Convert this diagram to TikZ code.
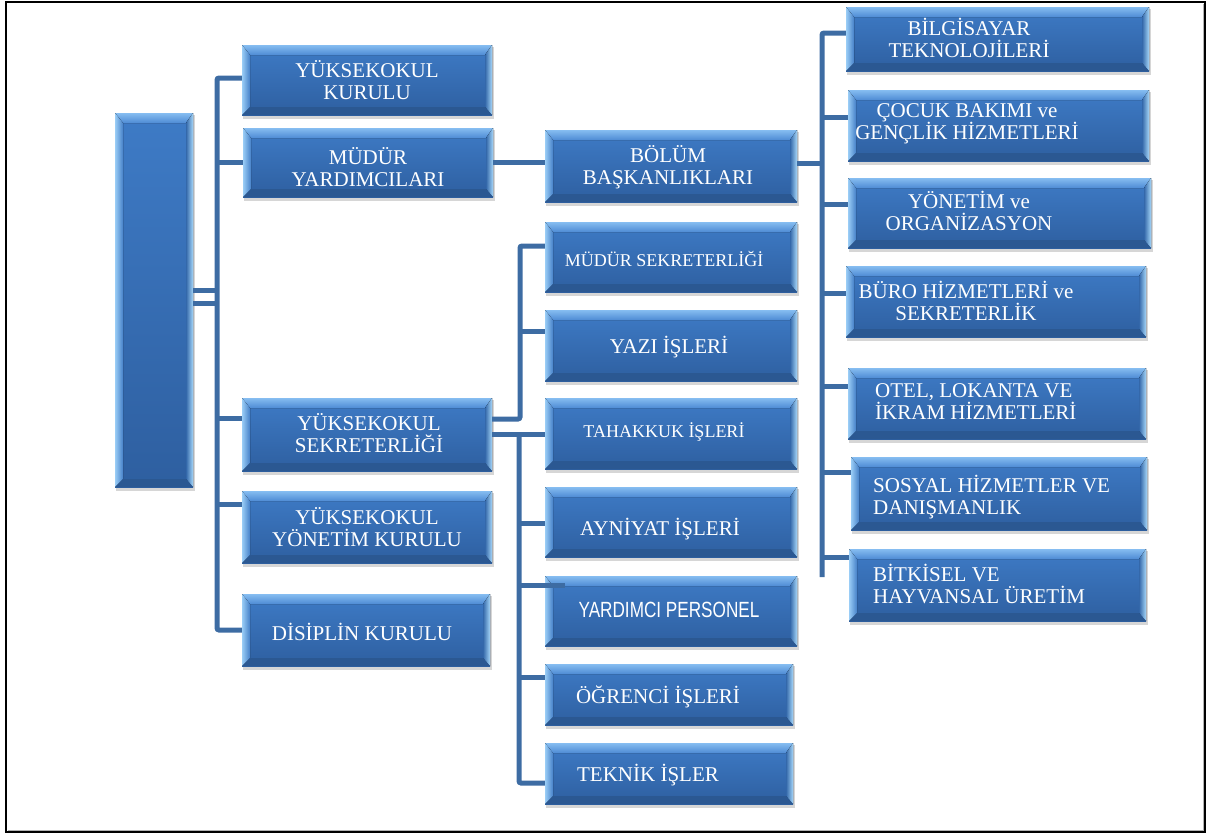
\documentclass[tikz,border=0pt]{standalone}
\usepackage{fontspec}
\setmainfont{Liberation Serif}
\newfontfamily\arialf{Liberation Sans}
\usepackage{graphicx}
\usetikzlibrary{calc}
\definecolor{connc}{HTML}{3D6CA3}
\definecolor{bmidA}{HTML}{3E7BC6}
\definecolor{bmidB}{HTML}{2E5FA0}
\definecolor{btopA}{HTML}{86BDF1}
\definecolor{btopB}{HTML}{4E8BD4}
\definecolor{bleftA}{HTML}{9ACDF6}
\definecolor{bleftB}{HTML}{4580C8}
\definecolor{brightA}{HTML}{3468AA}
\definecolor{brightB}{HTML}{A5D6F8}
\definecolor{bbot}{HTML}{2B5892}
\tikzset{
  bev/.style={rectangle, inner sep=0pt, path picture={
    \coordinate (pnw) at (path picture bounding box.north west);
    \coordinate (pne) at (path picture bounding box.north east);
    \coordinate (psw) at (path picture bounding box.south west);
    \coordinate (pse) at (path picture bounding box.south east);
    \fill[top color=bmidA, bottom color=bmidB] (pnw) rectangle (pse);
    \fill[top color=btopA, bottom color=btopB] (pnw) -- (pne) -- ($(pne)+(-7,10)$) -- ($(pnw)+(8,10)$) -- cycle;
    \fill[left color=bleftA, right color=bleftB] (pnw) -- ($(pnw)+(8,10)$) -- ($(psw)+(8,-8)$) -- (psw) -- cycle;
    \fill[left color=brightA, right color=brightB] (pne) -- ($(pne)+(-7,10)$) -- ($(pse)+(-7,-8)$) -- (pse) -- cycle;
    \fill[bbot] (psw) -- ($(psw)+(8,-8)$) -- ($(pse)+(-7,-8)$) -- (pse) -- cycle;
  }},
  txt/.style={text=white, font=\fontsize{21}{22}\selectfont, align=center, inner sep=0pt},
  smalltxt/.style={txt, font=\fontsize{18}{20}\selectfont},
  conn/.style={draw=connc, line width=5pt, rounded corners=2pt},
}
\newcommand\bvx[5]{%
  \fill[black,opacity=0.16] (#2+1,#3+2) rectangle (#4+2,#5+4);
  \node[bev, minimum width={(#4-#2)*1pt}, minimum height={(#5-#3)*1pt}] (#1) at ({(#2+#4)/2},{(#3+#5)/2}) {};
}
\begin{document}
\begin{tikzpicture}[x=1pt,y=-1pt]
\useasboundingbox (0,0) rectangle (1209,835);
\draw[line width=2pt] (6,2) rectangle (1205,832);
\draw[gray!60, line width=1pt] (1203.5,4) -- (1203.5,830.5) -- (8,830.5);

% boxes
\bvx{root}{115}{113}{193}{487}
\bvx{kurulu}{242}{45}{492}{115}
\bvx{mudur}{243}{128}{493}{197}
\bvx{sek}{242}{398}{492}{471}
\bvx{yk}{242}{491}{492}{563}
\bvx{dis}{242}{594}{490}{666}
\bvx{bolum}{545}{130}{797}{202}
\bvx{msek}{545}{222}{797}{292}
\bvx{yazi}{545}{310}{797}{381}
\bvx{tah}{545}{398}{797}{469}
\bvx{ayn}{545}{487}{797}{557}
\bvx{yard}{545}{576}{797}{646}
\bvx{ogr}{545}{664}{793}{725}
\bvx{tek}{545}{743}{793}{804}
\bvx{bilg}{846}{7}{1149}{71}
\bvx{cocuk}{848}{90}{1149}{161}
\bvx{yon}{848}{178}{1151}{248}
\bvx{buro}{846}{266}{1146}{337}
\bvx{otel}{848}{368}{1146}{439}
\bvx{sos}{851}{457}{1147}{530}
\bvx{bit}{849}{549}{1146}{621}

% coordinates for trunk ends
\coordinate (LB) at (217,630);
\coordinate (SU) at (520,246);
\coordinate (SL) at (519,783);
\coordinate (RB) at (822,577);

% left trunk
\draw[conn] ([yshift=2pt]kurulu.west) -| (LB) -- (dis.west);
\draw[conn] (mudur.west) -- (mudur.west -| LB);
\draw[conn] ([yshift=16pt]sek.west) -- ([yshift=16pt]sek.west -| LB);
\draw[conn] ([yshift=23pt]yk.west) -- ([yshift=23pt]yk.west -| LB);
\draw[conn] ([yshift=10pt]root.east) -- ([yshift=10pt]root.east -| LB);
\draw[conn] ([yshift=-3pt]root.east) -- ([yshift=-3pt]root.east -| LB);

% mudur yardimcilari -> bolum
\draw[conn] (mudur.east) -- (mudur.east -| bolum.west);

% sekreterlik upper branch
\draw[conn] ([yshift=15.5pt]sek.east) -| (SU) -- (SU -| msek.west);
\draw[conn] ([yshift=14.5pt]yazi.west) -- ([yshift=14.5pt]yazi.west -| SU);

% sekreterlik lower branch
\draw[conn] (sek.east) -- (sek.east -| tah.west);
\draw[conn] ([yshift=-9.5pt]tek.west) -| (sek.east -| SL);
\draw[conn] ([yshift=-1pt]ayn.west) -- ([yshift=-1pt]ayn.west -| SL);
\draw[conn] ([yshift=26pt,xshift=20pt]yard.west) -- ([yshift=26pt]yard.west -| SL);
\draw[conn] ([yshift=17.5pt]ogr.west) -- ([yshift=17.5pt]ogr.west -| SL);

% right trunk
\draw[conn] ([yshift=6pt]bilg.west) -| (RB);
\draw[conn] ([yshift=3pt]bolum.east) -- ([yshift=3pt]bolum.east -| RB);
\draw[conn] ([yshift=8.5pt]cocuk.west) -- ([yshift=8.5pt]cocuk.west -| RB);
\draw[conn] ([yshift=9pt]yon.west) -- ([yshift=9pt]yon.west -| RB);
\draw[conn] ([yshift=8.5pt]buro.west) -- ([yshift=8.5pt]buro.west -| RB);
\draw[conn] ([yshift=17.5pt]otel.west) -- ([yshift=17.5pt]otel.west -| RB);
\draw[conn] ([yshift=21.5pt]sos.west) -- ([yshift=21.5pt]sos.west -| RB);
\draw[conn] ([yshift=28pt]bit.west) -- ([yshift=28pt]bit.west -| RB);

% texts
\node[txt] (kurulu-t) at (367,80) {YÜKSEKOKUL\\KURULU};
\node[txt] (mudur-t) at (368,167) {MÜDÜR\\YARDIMCILARI};
\node[txt] (bolum-t) at (668,167) {BÖLÜM\\BAŞKANLIKLARI};
\node[txt] (sek-t) at (369,433) {YÜKSEKOKUL\\SEKRETERLİĞİ};
\node[txt] (yk-t) at (367,527) {YÜKSEKOKUL\\YÖNETİM KURULU};
\node[txt] (dis-t) at (362,632) {DİSİPLİN KURULU};
\node[smalltxt] (msek-t) at (664,259) {MÜDÜR SEKRETERLİĞİ};
\node[txt] (yazi-t) at (669,347) {YAZI İŞLERİ};
\node[smalltxt] (tah-t) at (664,432) {TAHAKKUK İŞLERİ};
\node[txt] (ayn-t) at (660,529) {AYNİYAT İŞLERİ};
\node[txt, font=\arialf\fontsize{22}{24}\selectfont] (yard-t) at (669,610) {\scalebox{0.78}[1]{YARDIMCI PERSONEL}};
\node[txt] (ogr-t) at (658,697) {ÖĞRENCİ İŞLERİ};
\node[txt] (tek-t) at (648,775) {TEKNİK İŞLER};
\node[txt] (bilg-t) at (969,38) {BİLGİSAYAR\\TEKNOLOJİLERİ};
\node[txt] (cocuk-t) at (967,124) {ÇOCUK BAKIMI ve\\GENÇLİK HİZMETLERİ};
\node[txt] (yon-t) at (969,211) {YÖNETİM ve\\ORGANİZASYON};
\node[txt] (buro-t) at (966,301) {BÜRO HİZMETLERİ ve\\SEKRETERLİK};
\node[txt, align=left, anchor=west] (otel-t) at (875,402) {OTEL, LOKANTA VE\\İKRAM HİZMETLERİ};
\node[txt, align=left, anchor=west] (sos-t) at (873,497) {SOSYAL HİZMETLER VE\\DANIŞMANLIK};
\node[txt, align=left, anchor=west] (bit-t) at (873,584) {BİTKİSEL VE\\HAYVANSAL ÜRETİM};
\end{tikzpicture}
\end{document}
